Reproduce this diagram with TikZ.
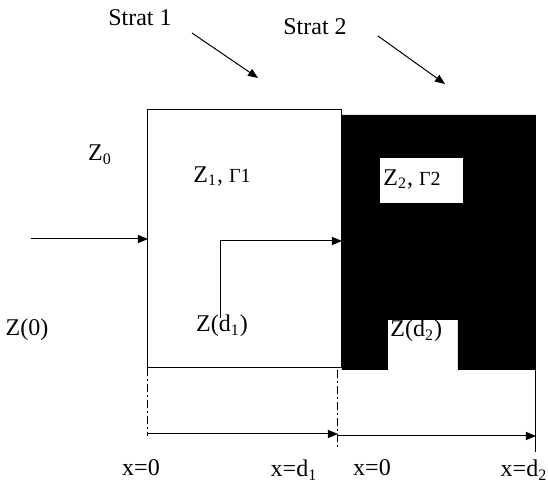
\documentclass[tikz,border=0pt]{standalone}
\usepackage{fontspec}
\setmainfont{Liberation Serif}
\usetikzlibrary{arrows.meta}
\begin{document}
\begin{tikzpicture}[x=0.5pt,y=-0.5pt,
  lbl/.style={font=\fontsize{12}{14}\selectfont, inner sep=0pt},
  ln/.style={line width=0.5pt},
  arr/.style={ln, -{Triangle[length=5pt,width=4pt]}},
  ext/.style={ln, dash pattern=on 4pt off 1.5pt on 1pt off 1.5pt}]
\useasboundingbox (0,0) rectangle (548,485);
% layers
\coordinate (b1nw) at (148,110);
\coordinate (b1se) at (342,368);
\fill[black] (342,115) -- (536,115) -- (536,370) -- (458,370) -- (458,320) -- (388,320) -- (388,370) -- (342,370) -- cycle;
\fill[white] (380,158) rectangle (463,203);
\draw[ln] (b1nw) rectangle (b1se);
% labels
\node[lbl] (s1) at (140,18) {Strat 1};
\node[lbl] (s2) at (315,27) {Strat 2};
\node[lbl] (z0) at (100,155) {Z\textsubscript{0}};
\node[lbl] (z1) at (222,176) {Z\textsubscript{1}, {\fontsize{10}{12}\selectfont Γ1}};
\node[lbl, anchor=west] (z2) at (383,179) {Z\textsubscript{2}, {\fontsize{10}{12}\selectfont Γ2}};
\node[lbl] (zz0) at (27,330) {Z(0)};
\node[lbl] (zd1) at (222,326) {Z(d\textsubscript{1})};
\node[lbl, anchor=west] (zd2) at (390,331) {Z(d\textsubscript{2})};
\node[lbl] (xa) at (141,468) {x=0};
\node[lbl] (xb) at (294,470) {x=d\textsubscript{1}};
\node[lbl] (xc) at (372,468) {x=0};
\node[lbl] (xd) at (524,470) {x=d\textsubscript{2}};
% arrow endpoints
\coordinate (s1a) at (192,33);
\coordinate (s1b) at (258,78);
\coordinate (s2a) at (378,36);
\coordinate (s2b) at (445,84);
\coordinate (ina) at (31,239);
\coordinate (inb) at (148,239);
\coordinate (da) at (221,318);
\coordinate (db) at (342,241);
\coordinate (e1a) at (148,368);
\coordinate (e1b) at (148,436);
\coordinate (e2a) at (338,370);
\coordinate (e2b) at (338,448);
\coordinate (e3a) at (536,370);
\coordinate (e3b) at (536,452);
\coordinate (m1) at (148,434);
\coordinate (m2) at (338,434);
\coordinate (m3) at (338,436);
\coordinate (m4) at (536,436);
% connectors
\draw[arr] (s1a) -- (s1b);
\draw[arr] (s2a) -- (s2b);
\draw[arr] (ina) -- (inb);
\draw[arr] (da) |- (db);
\draw[ext] (e1a) -- (e1b);
\draw[ext] (e2a) -- (e2b);
\draw[ln] (e3a) -- (e3b);
\draw[arr] (m1) -- (m2);
\draw[arr] (m3) -- (m4);
\end{tikzpicture}
\end{document}
